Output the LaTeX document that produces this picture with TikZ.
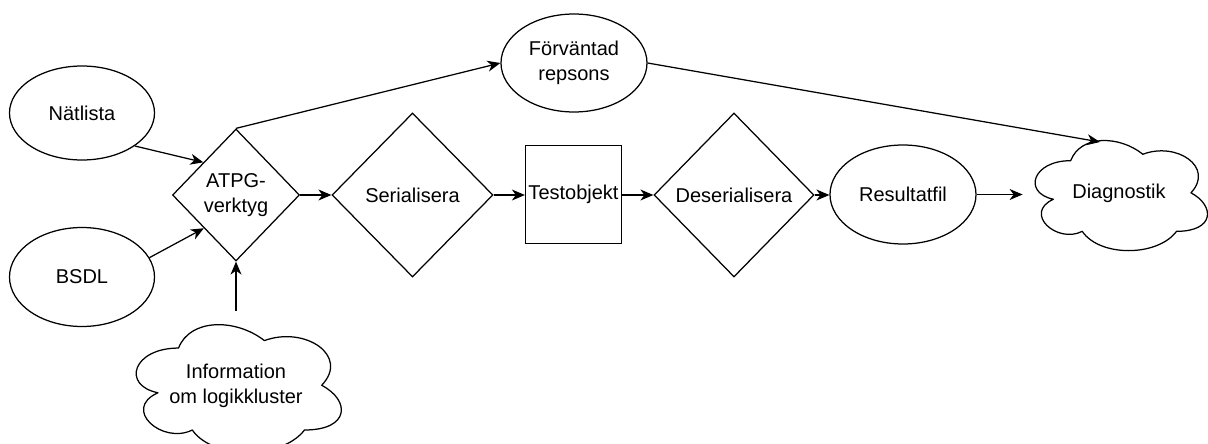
\documentclass[tikz,border=0pt]{standalone}
\usepackage{fontspec}
\setmainfont{Liberation Sans}
\usetikzlibrary{shapes.geometric,arrows.meta,calc}

% Cloud outline drawn inside the bounding box of a named node (#1), size #2 x #3
\newcommand\cloudoutline[3]{%
  \draw[outline, shift={(#1.north west)}, x={(#2pt,0pt)}, y={(0pt,-#3pt)}]
    (0.25,0.25) .. controls (0.05,0.25) and (0,0.5) .. (0.16,0.55)
    .. controls (0,0.66) and (0.18,0.9) .. (0.31,0.8)
    .. controls (0.4,1) and (0.7,1) .. (0.8,0.8)
    .. controls (1,0.8) and (1,0.6) .. (0.875,0.5)
    .. controls (1,0.3) and (0.8,0.1) .. (0.625,0.2)
    .. controls (0.5,0.05) and (0.3,0.05) .. (0.25,0.25) -- cycle;}

\tikzset{
  label font/.style={font=\fontsize{20}{25}\selectfont},
  base/.style={draw=black, line width=1.25pt, inner sep=0pt, align=center, label font},
  oval/.style={base, ellipse},
  decision/.style={base, diamond},
  box/.style={base, rectangle},
  cloudbox/.style={rectangle, inner sep=0pt, align=center, label font},
  outline/.style={draw=black, line width=1.25pt, line join=round},
  flow/.style={line width=1.25pt, -{Stealth[length=13pt,width=11pt,inset=4pt]}},
}

\begin{document}
\begin{tikzpicture}[x=1pt, y=-1pt]
  \fill[white] (0,0) rectangle (1208,444);
  \useasboundingbox (0,0) rectangle (1208,444);

  % inputs
  \node[oval, minimum width=145pt, minimum height=94pt] (nat) at (82,113) {Nätlista};
  \node[oval, minimum width=145pt, minimum height=99pt] (bsdl) at (82,277) {BSDL};
  \node[cloudbox, minimum width=229pt, minimum height=149pt] (info) at (236,385.5)
       {Information\\om logikkluster};
  \cloudoutline{info}{229}{149}

  % main flow
  \node[decision, minimum width=127pt, minimum height=132pt] (atpg) at (236,195) {ATPG-\\verktyg};
  \node[oval, minimum width=146pt, minimum height=98pt] (forv) at (574,63) {Förväntad\\repsons};
  \node[decision, minimum width=161pt, minimum height=164pt] (ser) at (412.5,195) {Serialisera};
  \node[box, minimum width=96pt, minimum height=98pt] (dut) at (573.5,194.5) {Testobjekt};
  \node[decision, minimum width=160pt, minimum height=164pt] (deser) at (734,195) {Deserialisera};
  \node[oval, minimum width=146pt, minimum height=99pt] (res) at (903,194.5) {Resultatfil};
  \node[cloudbox, minimum width=192.4pt, minimum height=128.5pt] (diag) at (1119,193) {Diagnostik};
  \cloudoutline{diag}{192.4}{128.5}
  \coordinate (diagin) at ($(diag.center)+(-19,-51)$);

  % connectors
  \draw[flow] (nat.-32) -- (atpg.135);
  \draw[flow] (bsdl.16) -- (atpg.226);
  \draw[flow] (info.north) -- (atpg.south);
  \draw[flow] (atpg.north) -- (forv.west);
  \draw[flow] (forv.east) -- (diagin);
  \draw[flow] (atpg.east) -- (ser.west);
  \draw[flow] (ser.east) -- (dut.west |- ser.east);
  \draw[flow] (dut.east |- deser.west) -- (deser.west);
  \draw[flow] (deser.east) -- (res.west |- deser.east);
  \draw[flow] (res.east) -- (diag.west |- res.east);
\end{tikzpicture}
\end{document}
